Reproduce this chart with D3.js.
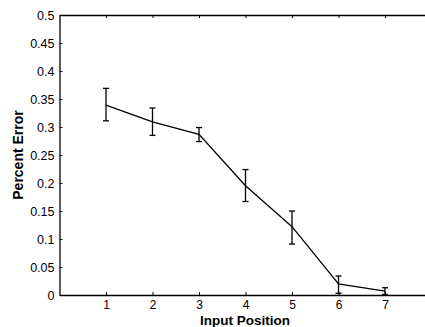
<!DOCTYPE html>
<html>
<head>
<meta charset="utf-8">
<script src="https://d3js.org/d3.v7.min.js"></script>
<style>
  body { margin: 0; background: #fff; }
  svg { display: block; }
  text { font-family: "Liberation Sans", Arial, Helvetica, sans-serif; }
</style>
</head>
<body>
<script>
// Set Dimensions
const width  = 425;
const height = 327;
const mLeft = 59.5, mTop = 15, mBottom = 295;

// Data
const positions = [1, 2, 3, 4, 5, 6, 7];
const errMean   = [0.339, 0.309, 0.287, 0.195, 0.122, 0.020, 0.007];
const errLow    = [0.311, 0.285, 0.274, 0.167, 0.091, 0.003, 0.001];
const errHigh   = [0.369, 0.334, 0.299, 0.224, 0.150, 0.034, 0.013];
const yTicks    = [0, 0.05, 0.1, 0.15, 0.2, 0.25, 0.3, 0.35, 0.4, 0.45, 0.5];

const data = positions.map((p, i) => ({x: p, y: errMean[i], lo: errLow[i], hi: errHigh[i]}));

const svg = d3.select("body")
  .append("svg")
  .attr("width", width)
  .attr("height", height);

// axes cover 0..8 but the right side is cut off by the figure edge
const x = d3.scaleLinear().domain([0, 8]).range([mLeft, mLeft + 8 * 46.5]);
const y = d3.scaleLinear().domain([0, 0.5]).range([mBottom, mTop]);

// bottom
const gx = svg.append("g")
  .attr("transform", `translate(0,${mBottom})`)
  .call(d3.axisBottom(x).tickValues(positions).tickSize(-3).tickPadding(5).tickSizeOuter(0));
gx.selectAll("text").attr("font-size", 12).attr("fill", "#000");

// top
svg.append("g")
  .attr("transform", `translate(0,${mTop})`)
  .call(d3.axisTop(x).tickValues(positions).tickSize(-3).tickFormat("").tickSizeOuter(0));

// left
const gy = svg.append("g")
  .attr("transform", `translate(${mLeft},0)`)
  .call(d3.axisLeft(y).tickValues(yTicks).tickSize(-3).tickPadding(5).tickSizeOuter(0)
          .tickFormat(d => d3.format("")(+d.toFixed(2))));
gy.selectAll("text").attr("font-size", 12.5).attr("fill", "#000");

svg.selectAll(".domain").attr("stroke", "#000").attr("stroke-width", 1.3);
svg.selectAll(".tick line").attr("stroke", "#000");

// the line
svg.append("path")
  .datum(data)
  .attr("fill", "none")
  .attr("stroke", "#000")
  .attr("stroke-width", 1.3)
  .attr("d", d3.line().x(d => x(d.x)).y(d => y(d.y)));

// error bars
const eb = svg.selectAll(".eb").data(data).enter().append("g")
  .attr("stroke", "#000").attr("stroke-width", 1.3);
eb.append("line")
  .attr("x1", d => x(d.x)).attr("x2", d => x(d.x))
  .attr("y1", d => y(d.lo)).attr("y2", d => y(d.hi));
eb.append("line")
  .attr("x1", d => x(d.x) - 3).attr("x2", d => x(d.x) + 3)
  .attr("y1", d => y(d.lo)).attr("y2", d => y(d.lo));
eb.append("line")
  .attr("x1", d => x(d.x) - 3).attr("x2", d => x(d.x) + 3)
  .attr("y1", d => y(d.hi)).attr("y2", d => y(d.hi));

// axis labels
svg.append("text")
  .attr("x", 245).attr("y", 325)
  .attr("text-anchor", "middle")
  .attr("font-size", 13.5).attr("font-weight", "bold")
  .text("Input Position");

svg.append("text")
  .attr("transform", `translate(23,155) rotate(-90)`)
  .attr("text-anchor", "middle")
  .attr("font-size", 14).attr("font-weight", "bold")
  .text("Percent Error");
</script>
</body>
</html>
